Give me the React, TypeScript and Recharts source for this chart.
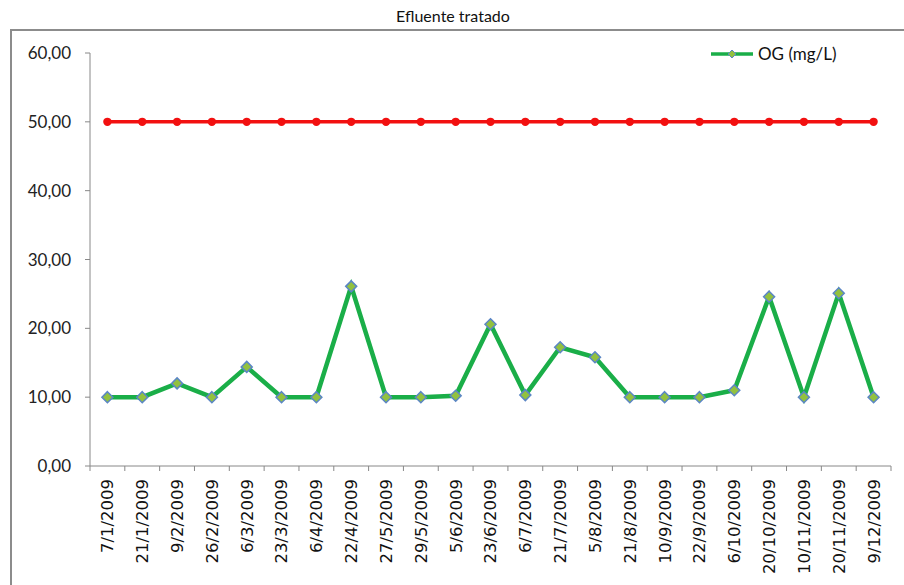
import React from 'react';
import { LineChart, Line, XAxis, YAxis } from 'recharts';

const dates = [
  '7/1/2009', '21/1/2009', '9/2/2009', '26/2/2009', '6/3/2009', '23/3/2009',
  '6/4/2009', '22/4/2009', '27/5/2009', '29/5/2009', '5/6/2009', '23/6/2009',
  '6/7/2009', '21/7/2009', '5/8/2009', '21/8/2009', '10/9/2009', '22/9/2009',
  '6/10/2009', '20/10/2009', '10/11/2009', '20/11/2009', '9/12/2009',
];
const ogValues = [
  10, 10, 12, 10, 14.4, 10, 10, 26.1, 10, 10, 10.2, 20.6,
  10.3, 17.25, 15.8, 10, 10, 10, 11, 24.6, 10, 25.1, 10,
];
const limitValues = [
  50, 50, 50, 50, 50, 50, 50, 50, 50, 50, 50, 50,
  50, 50, 50, 50, 50, 50, 50, 50, 50, 50, 50,
];
const yTicks = [0, 10, 20, 30, 40, 50, 60];
const seriesName = 'OG (mg/L)';
const chartTitle = 'Efluente tratado';

const data = dates.map((d, i) => ({ date: d, og: ogValues[i], limit: limitValues[i] }));

const TICK_SIZE = 5;
const TICK_MARGIN = 8;

const XTick = (props: any) => {
  const { x, y, payload, index, visibleTicksCount } = props;
  const off = payload && payload.offset ? payload.offset : 17;
  const axisY = y - TICK_SIZE - TICK_MARGIN;
  const last = index === (visibleTicksCount ? visibleTicksCount - 1 : dates.length - 1);
  return (
    <g>
      <line x1={x - off} x2={x - off} y1={axisY} y2={axisY + TICK_SIZE} stroke="#888" strokeWidth={1} />
      {last && (
        <line x1={x + off} x2={x + off} y1={axisY} y2={axisY + TICK_SIZE} stroke="#888" strokeWidth={1} />
      )}
      <text
        x={x}
        y={y}
        transform={`rotate(-90, ${x}, ${y})`}
        textAnchor="end"
        dy="0.36em"
        fontFamily="'DejaVu Sans', sans-serif"
        fontSize={16.5}
        fill="#111"
      >
        {payload.value}
      </text>
    </g>
  );
};

const Diamond = (props: any) => {
  const { cx, cy, index } = props;
  if (cx == null || cy == null) return <g key={`d-${index}`} />;
  const s = 5.5;
  return (
    <polygon
      key={`d-${index}`}
      points={`${cx},${cy - s} ${cx + s},${cy} ${cx},${cy + s} ${cx - s},${cy}`}
      fill="#92c13f"
      stroke="#5b86c5"
      strokeWidth={1.5}
    />
  );
};

const RedDot = (props: any) => {
  const { cx, cy, index } = props;
  if (cx == null || cy == null) return <g key={`r-${index}`} />;
  return <circle key={`r-${index}`} cx={cx} cy={cy} r={4.2} fill="#f21010" />;
};

export default function App() {
  return (
    <div style={{ position: 'absolute', left: 0, top: 0, width: 904, height: 585, background: '#fff', overflow: 'hidden' }}>
      <div
        style={{
          position: 'absolute',
          left: 10,
          top: 29,
          width: 1000,
          height: 1000,
          borderLeft: '2px solid #8c8c8c',
          borderTop: '2px solid #8c8c8c',
        }}
      />
      <div
        style={{
          position: 'absolute',
          left: 0,
          top: 7,
          width: 906,
          textAlign: 'center',
          fontFamily: "Lato, 'Liberation Sans', sans-serif",
          fontSize: 16,
          color: '#111',
          lineHeight: '18px',
        }}
      >
        {chartTitle}
      </div>
      <div style={{ position: 'absolute', left: 0, top: 0 }}>
        <LineChart width={904} height={585} data={data} margin={{ top: 53, right: 13, bottom: 0, left: 10 }}>
          <XAxis
            dataKey="date"
            scale="band"
            interval={0}
            height={119}
            tickSize={TICK_SIZE}
            tickMargin={TICK_MARGIN}
            tickLine={false}
            axisLine={{ stroke: '#888', strokeWidth: 1 }}
            tick={<XTick />}
          />
          <YAxis
            width={80}
            domain={[0, 60]}
            ticks={yTicks}
            interval={0}
            tickSize={5}
            tickMargin={14}
            axisLine={{ stroke: '#888', strokeWidth: 1 }}
            tickLine={{ stroke: '#888', strokeWidth: 1 }}
            tickFormatter={(v: number) => v.toFixed(2).replace('.', ',')}
            tick={{ fontFamily: "Lato, 'Liberation Sans', sans-serif", fontSize: 17, fill: '#222' }}
          />
          <Line
            dataKey="limit"
            stroke="#f21010"
            strokeWidth={3.5}
            dot={<RedDot />}
            activeDot={false}
            legendType="none"
            isAnimationActive={false}
          />
          <Line
            dataKey="og"
            name={seriesName}
            stroke="#1aae48"
            strokeWidth={4.5}
            dot={<Diamond />}
            activeDot={false}
            isAnimationActive={false}
          />
        </LineChart>
      </div>
      <div style={{ position: 'absolute', left: 711, top: 45, display: 'flex', alignItems: 'center' }}>
        <svg width={42} height={12} style={{ display: 'block' }}>
          <line x1={0} x2={42} y1={6} y2={6} stroke="#1aae48" strokeWidth={3.5} />
          <polygon points="21,2 25,6 21,10 17,6" fill="#92c13f" stroke="#5b86c5" strokeWidth={1} />
        </svg>
        <span
          style={{
            marginLeft: 5,
            fontFamily: "Lato, 'Liberation Sans', sans-serif",
            fontSize: 17,
            color: '#111',
            lineHeight: '18px',
          }}
        >
          {seriesName}
        </span>
      </div>
    </div>
  );
}
